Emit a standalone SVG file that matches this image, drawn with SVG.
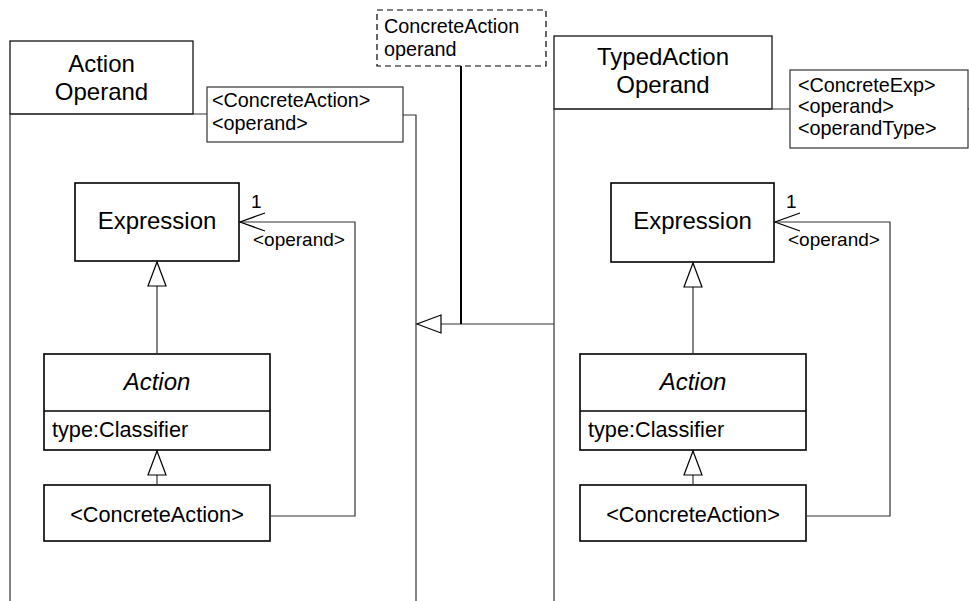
<svg xmlns="http://www.w3.org/2000/svg" width="969" height="601" viewBox="0 0 969 601">
<style>
text{font-family:"Liberation Sans",Arial,sans-serif;fill:#000}
.pk{fill:#fff;stroke:#000;stroke-width:1.2}
.cls{fill:#fff;stroke:#000;stroke-width:1.6}
.note{fill:#fff;stroke:#333;stroke-width:1.2}
.ln{fill:none;stroke:#333;stroke-width:1.2}
.title{font-size:24px;text-anchor:middle}
.cname{font-size:24px;text-anchor:middle}
.attr{font-size:21.7px}
.lbl{font-size:19px}
.ntxt{font-size:19.8px}
</style>
<defs>
<marker id="gen" markerWidth="28" markerHeight="20" refX="25" refY="10" orient="auto" markerUnits="userSpaceOnUse">
<path d="M25,10 L1,1 L1,19 Z" fill="#fff" stroke="#000" stroke-width="1.2"/>
</marker>
<marker id="open" markerWidth="28" markerHeight="22" refX="26" refY="11" orient="auto" markerUnits="userSpaceOnUse">
<path d="M1,2 L26,11 L1,20" fill="none" stroke="#000" stroke-width="1.2"/>
</marker>
</defs>

<g id="pkg-left">
<rect class="pk" x="10" y="41" width="183" height="73"/>
<path class="ln" d="M10,601 V114 H207 M403,115 H416 V601"/>
<text class="title" x="101.5" y="72">Action</text>
<text class="title" x="101.5" y="100">Operand</text>
</g>

<g id="note-left">
<rect class="note" x="207" y="87" width="196" height="55"/>
<text class="ntxt" x="212" y="107">&lt;ConcreteAction&gt;</text>
<text class="ntxt" x="212" y="130">&lt;operand&gt;</text>
</g>

<g id="pkg-right">
<rect class="pk" x="554" y="36" width="218" height="73"/>
<path class="ln" d="M554,601 V109 H790 M968,109 H969"/>
<text class="title" x="663" y="65">TypedAction</text>
<text class="title" x="663" y="93">Operand</text>
</g>

<g id="note-right">
<rect class="note" x="790" y="70" width="178" height="78"/>
<text class="ntxt" x="798" y="92">&lt;ConcreteExp&gt;</text>
<text class="ntxt" x="798" y="113">&lt;operand&gt;</text>
<text class="ntxt" x="798" y="135">&lt;operandType&gt;</text>
</g>

<g id="note-dashed">
<rect x="377" y="10" width="169" height="56" fill="#fff" stroke="#000" stroke-width="1.2" stroke-dasharray="6,4"/>
<text class="ntxt" x="384" y="33">ConcreteAction</text>
<text class="ntxt" x="384" y="56">operand</text>
</g>

<g id="expr-left">
<rect class="cls" x="75" y="183" width="164" height="78"/>
<text class="cname" x="157" y="229">Expression</text>
</g>
<g id="action-left">
<rect class="cls" x="44" y="354" width="226" height="96"/>
<line class="cls" x1="44" y1="411" x2="270" y2="411"/>
<text class="cname" x="157" y="390" font-style="italic">Action</text>
<text class="attr" x="52" y="437">type:Classifier</text>
</g>
<g id="concrete-left">
<rect class="cls" x="44" y="485" width="226" height="56"/>
<text class="attr" x="157" y="522" text-anchor="middle">&lt;ConcreteAction&gt;</text>
</g>

<g id="expr-right">
<rect class="cls" x="611" y="183" width="163" height="79"/>
<text class="cname" x="692.5" y="229">Expression</text>
</g>
<g id="action-right">
<rect class="cls" x="580" y="354" width="226" height="96"/>
<line class="cls" x1="580" y1="411" x2="806" y2="411"/>
<text class="cname" x="693" y="390" font-style="italic">Action</text>
<text class="attr" x="588" y="437">type:Classifier</text>
</g>
<g id="concrete-right">
<rect class="cls" x="580" y="485" width="226" height="56"/>
<text class="attr" x="693" y="522" text-anchor="middle">&lt;ConcreteAction&gt;</text>
</g>

<g id="connectors">
<path class="ln" d="M157,354 V262" marker-end="url(#gen)"/>
<path class="ln" d="M157,485 V451" marker-end="url(#gen)"/>
<path class="ln" d="M270,516 H355 V222 H240" marker-end="url(#open)"/>
<text class="lbl" x="251" y="208">1</text>
<text class="lbl" x="253" y="246">&lt;operand&gt;</text>

<path class="ln" d="M693,354 V263" marker-end="url(#gen)"/>
<path class="ln" d="M693,485 V451" marker-end="url(#gen)"/>
<path class="ln" d="M806,516 H890 V222 H775" marker-end="url(#open)"/>
<text class="lbl" x="786" y="208">1</text>
<text class="lbl" x="788" y="246">&lt;operand&gt;</text>

<path class="ln" d="M554,324 H417" marker-end="url(#gen)"/>
<line x1="461" y1="66" x2="461" y2="324" stroke="#000" stroke-width="2"/>
</g>
</svg>
